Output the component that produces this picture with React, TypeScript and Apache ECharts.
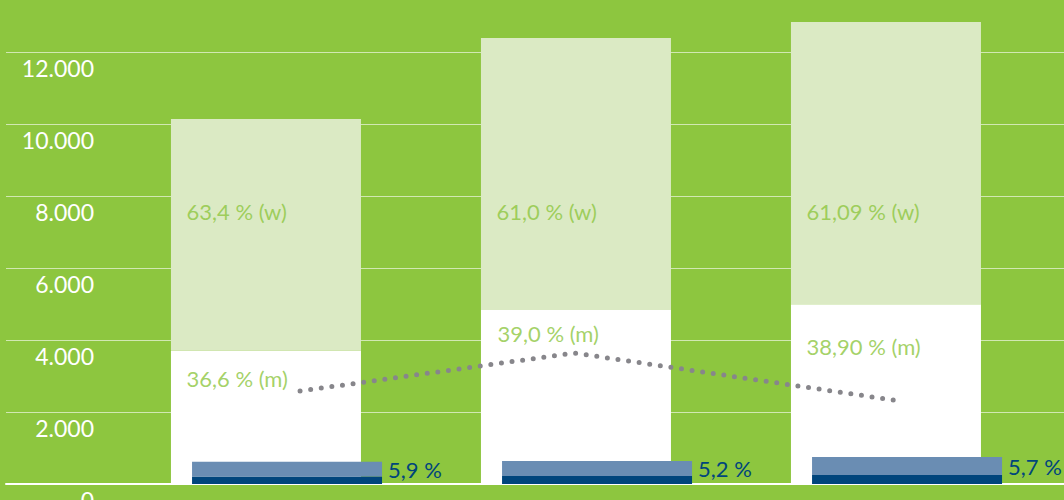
import React, { useEffect, useRef } from "react";
import * as echarts from "echarts";

const categories = ["A", "B", "C"];
const menValues = [3711, 4832, 4992];
const womenValues = [6429, 7557, 7841];
const blueDarkValues = [205, 222, 250];
const blueLightValues = [410, 417, 500];
const blueLabels = ["5,9 %", "5,2 %", "5,7 %"];
const wLabels = ["63,4 % (w)", "61,0 % (w)", "61,09 % (w)"];
const wLabelLevels = [7556, 7556, 7556];
const mLabels = ["36,6 % (m)", "39,0 % (m)", "38,90 % (m)"];
const mLabelLevels = [2917, 4167, 3806];
const mLabelOffsets = [-90, -89, -90];
const trendPoints: [number, number][] = [
  [0.076, 2583],
  [0.96, 3639],
  [2.01, 2306],
];

const GREEN = "#8dc63f";
const LIGHT_GREEN = "#dbeac4";
const FONT = "Lato";

function fmt(v: number): string {
  const s = String(Math.round(v));
  return s.replace(/\B(?=(\d{3})+(?!\d))/g, ".");
}

export default function App() {
  const ref = useRef<HTMLDivElement>(null);
  useEffect(() => {
    if (!ref.current) return;
    const chart = echarts.init(ref.current, null, { renderer: "svg" });
    const yBase = { type: "value" as const, min: 0, max: 14000, interval: 2000 };
    chart.setOption({
      animation: false,
      backgroundColor: GREEN,
      grid: [
        { left: 6, right: 0, top: 0, bottom: 16, outerBoundsMode: "none", containLabel: false },
        { left: 121.5, right: 12.5, top: 0, bottom: 16, outerBoundsMode: "none", containLabel: false },
      ],
      xAxis: [
        {
          type: "category",
          gridIndex: 0,
          data: categories,
          axisLine: { show: true, lineStyle: { color: "#ffffff", width: 2 } },
          axisTick: { show: false },
          axisLabel: { show: false },
        },
        {
          type: "category",
          gridIndex: 1,
          data: categories,
          axisLine: { show: false },
          axisTick: { show: false },
          axisLabel: { show: false },
        },
        {
          type: "value",
          gridIndex: 1,
          min: -0.5,
          max: 2.5,
          show: false,
        },
      ],
      yAxis: [
        {
          ...yBase,
          gridIndex: 0,
          axisLine: { show: false },
          axisTick: { show: false },
          splitLine: { show: true, lineStyle: { color: "rgba(255,255,255,0.6)", width: 1 } },
          axisLabel: {
            inside: true,
            margin: 88,
            align: "right",
            verticalAlign: "top",
            lineHeight: 31,
            color: "#ffffff",
            fontSize: 23,
            fontFamily: FONT,
            showMaxLabel: false,
            formatter: (v: number) => fmt(v),
          },
        },
        {
          ...yBase,
          gridIndex: 1,
          show: false,
          splitLine: { show: false },
        },
      ],
      series: [
        {
          type: "bar",
          xAxisIndex: 1,
          yAxisIndex: 1,
          stack: "main",
          barWidth: 190,
          barGap: "-88.9%",
          data: menValues,
          itemStyle: { color: "#ffffff" },
        },
        {
          type: "bar",
          xAxisIndex: 1,
          yAxisIndex: 1,
          stack: "main",
          barWidth: 190,
          barGap: "-88.9%",
          data: womenValues,
          itemStyle: { color: LIGHT_GREEN },
        },
        {
          type: "bar",
          xAxisIndex: 1,
          yAxisIndex: 1,
          stack: "blue",
          barWidth: 190,
          barGap: "-88.9%",
          data: blueDarkValues,
          itemStyle: { color: "#00457c" },
        },
        {
          type: "bar",
          xAxisIndex: 1,
          yAxisIndex: 1,
          stack: "blue",
          barWidth: 190,
          barGap: "-88.9%",
          data: blueLightValues,
          itemStyle: { color: "#6a8db3" },
          label: {
            show: true,
            position: "right",
            distance: 6,
            color: "#00457c",
            fontSize: 22,
            fontFamily: FONT,
            formatter: (p: any) => blueLabels[p.dataIndex],
          },
        },
        {
          type: "line",
          xAxisIndex: 2,
          yAxisIndex: 1,
          data: trendPoints,
          smooth: false,
          symbol: "none",
          lineStyle: { color: "#87868b", width: 5, type: [0, 10.7], cap: "round" },
          z: 5,
        },
        {
          type: "scatter",
          xAxisIndex: 1,
          yAxisIndex: 1,
          symbolSize: 1,
          itemStyle: { color: "rgba(0,0,0,0)" },
          data: wLabelLevels,
          label: {
            show: true,
            position: "inside",
            align: "left",
            verticalAlign: "middle",
            offset: [-90, 0],
            color: GREEN,
            fontSize: 22,
            fontFamily: FONT,
            formatter: (p: any) => wLabels[p.dataIndex],
          },
          z: 6,
        },
        {
          type: "scatter",
          xAxisIndex: 1,
          yAxisIndex: 1,
          symbolSize: 1,
          itemStyle: { color: "rgba(0,0,0,0)" },
          data: mLabelLevels.map((v, i) => ({
            value: v,
            label: { offset: [mLabelOffsets[i], 0] },
          })),
          label: {
            show: true,
            position: "inside",
            align: "left",
            verticalAlign: "middle",
            color: GREEN,
            fontSize: 22,
            fontFamily: FONT,
            formatter: (p: any) => mLabels[p.dataIndex],
          },
          z: 6,
        },
      ],
    });
    return () => chart.dispose();
  }, []);
  return (
    <div
      ref={ref}
      style={{ position: "fixed", left: 0, top: -20, width: 1064, height: 520 }}
    />
  );
}
